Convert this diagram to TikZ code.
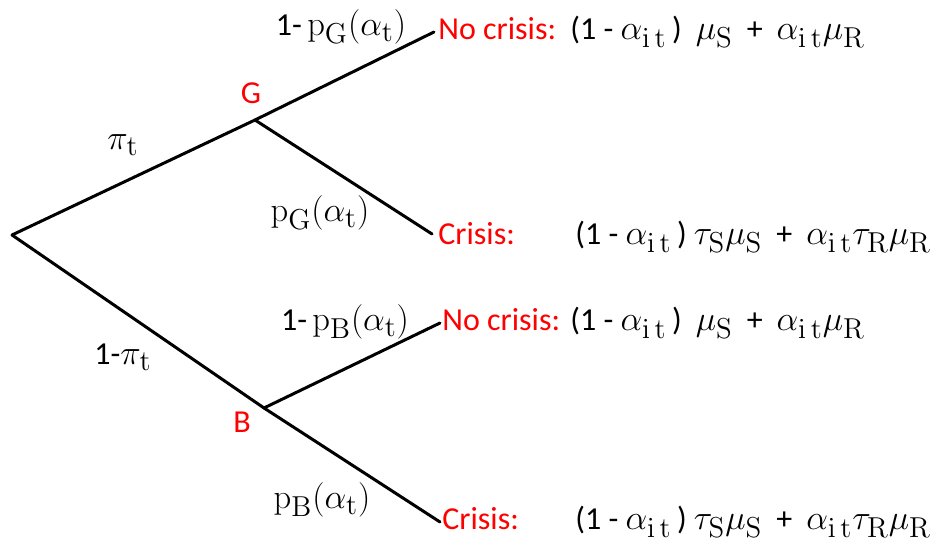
\documentclass[tikz,border=0pt]{standalone}
\usepackage[no-math]{fontspec}
\setmainfont{Carlito}
\DeclareMathSizes{16}{18.5}{14.5}{11}
\newcommand{\rsub}[1]{_{\mathrm{#1}}}
\newcommand{\wgap}{\hspace{7pt}}
\begin{document}
\begin{tikzpicture}[x=0.5pt,y=-0.5pt,
  branch/.style={line width=1.5pt, black, line cap=round},
  outcome/.style={text=red, anchor=base west, inner sep=0pt},
  payoff/.style={anchor=base west, inner sep=0pt},
  prob/.style={inner sep=0pt},
  statelbl/.style={text=red, inner sep=0pt},
  font=\fontsize{16}{19}\selectfont]
\useasboundingbox (0,0) rectangle (938,555);
\coordinate (root) at (12,235);
\coordinate (G) at (255,120);
\coordinate (B) at (264,408);
\coordinate (GN) at (434,32);
\coordinate (GC) at (432,234);
\coordinate (BN) at (440,323);
\coordinate (BC) at (440,522);
\draw[branch] (root) -- (G);
\draw[branch] (G) -- (GN);
\draw[branch] (G) -- (GC);
\draw[branch] (root) -- (B);
\draw[branch] (B) -- (BN);
\draw[branch] (B) -- (BC);
% state labels
\node[statelbl] (gl) at (251,93) {G};
\node[statelbl] (bl) at (242,422) {B};
% probabilities
\node[prob] (p1) at (341,27) {1-\,$\mathrm{p}\rsub{G}(\alpha\rsub{t})$};
\node[prob] (p2) at (123,145) {$\pi\rsub{t}$};
\node[prob] (p3) at (320,213) {$\mathrm{p}\rsub{G}(\alpha\rsub{t})$};
\node[prob] (p4) at (345,322) {1-\,$\mathrm{p}\rsub{B}(\alpha\rsub{t})$};
\node[prob] (p5) at (123,357) {1-$\pi\rsub{t}$};
\node[prob] (p6) at (322,500) {$\mathrm{p}\rsub{B}(\alpha\rsub{t})$};
% outcomes
\node[outcome] (o1) at (438,40) {No crisis:};
\node[outcome] (o2) at (438,245) {Crisis:};
\node[outcome] (o3) at (442,331) {No crisis:};
\node[outcome] (o4) at (442,530) {Crisis:};
% payoffs
\node[payoff] (f1) at (570,40) {(1 - $\alpha\rsub{i\,t}$\,)\wgap$\mu\rsub{S}$\wgap+\wgap$\alpha\rsub{i\,t}\mu\rsub{R}$};
\node[payoff] (f2) at (575,245) {(1 - $\alpha\rsub{i\,t}$\,) $\tau\rsub{S}\mu\rsub{S}$\wgap+\wgap$\alpha\rsub{i\,t}\tau\rsub{R}\mu\rsub{R}$};
\node[payoff] (f3) at (570,331) {(1 - $\alpha\rsub{i\,t}$\,)\wgap$\mu\rsub{S}$\wgap+\wgap$\alpha\rsub{i\,t}\mu\rsub{R}$};
\node[payoff] (f4) at (575,530) {(1 - $\alpha\rsub{i\,t}$\,) $\tau\rsub{S}\mu\rsub{S}$\wgap+\wgap$\alpha\rsub{i\,t}\tau\rsub{R}\mu\rsub{R}$};
\end{tikzpicture}
\end{document}
